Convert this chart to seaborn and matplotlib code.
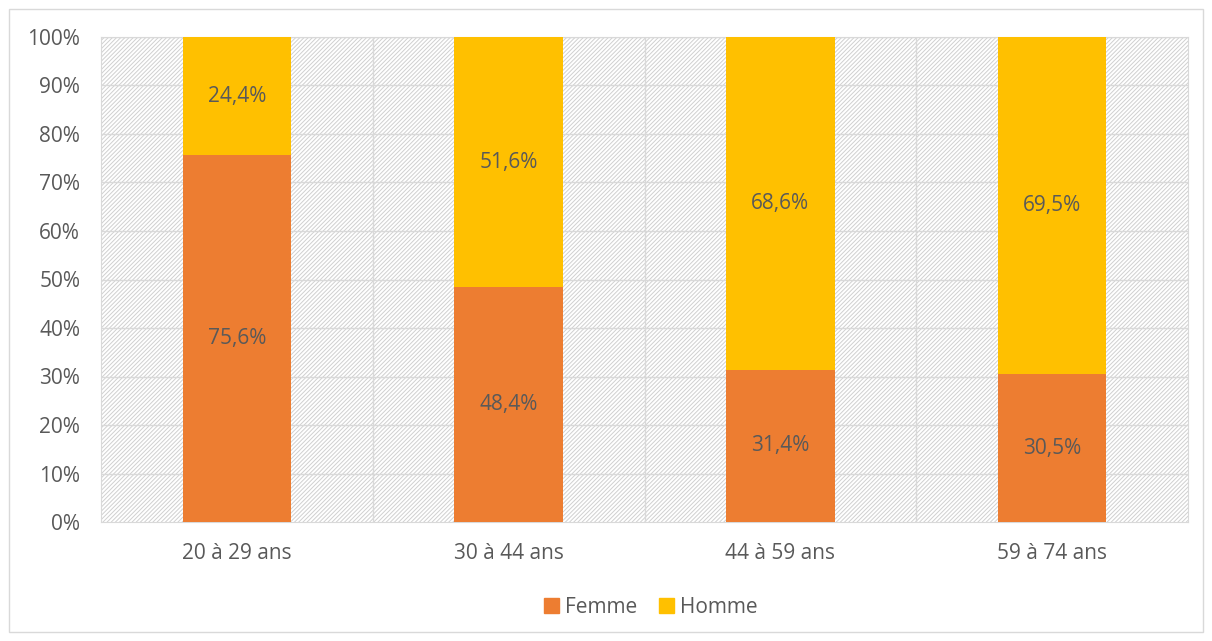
import matplotlib
matplotlib.use("Agg")
import matplotlib.pyplot as plt
import seaborn as sns
import pandas as pd
from matplotlib.patches import Rectangle

categories = ["20 à 29 ans", "30 à 44 ans", "44 à 59 ans", "59 à 74 ans"]
femme = [75.6, 48.4, 31.4, 30.5]
homme = [24.4, 51.6, 68.6, 69.5]

sns.set_style("white")
plt.rcParams["font.family"] = ["Open Sans", "DejaVu Sans"]
plt.rcParams["hatch.linewidth"] = 0.7

orange = "#ed7d31"
yellow = "#ffc000"
txt = "#595959"
fs = 15

df = pd.DataFrame({"cat": categories, "femme": femme, "homme": homme})
df["total"] = df["femme"] + df["homme"]

fig = plt.figure(figsize=(12.12, 6.41), dpi=100)
fig.patches.append(Rectangle((9 / 1212, 9 / 641), 1194 / 1212, 623 / 641,
                             transform=fig.transFigure, fill=False,
                             edgecolor="#d9d9d9", linewidth=1))
ax = fig.add_axes([101 / 1212, 119 / 641, 1087 / 1212, 485 / 641])

# hatched plot area background
ax.add_patch(Rectangle((0, 0), 1, 1, transform=ax.transAxes, facecolor="white",
                       hatch="////////", edgecolor="#d0d0d0", linewidth=0, zorder=0))

sns.barplot(data=df, x="cat", y="total", color=yellow, width=0.4, saturation=1,
            ax=ax, zorder=3, linewidth=0)
sns.barplot(data=df, x="cat", y="femme", color=orange, width=0.4, saturation=1,
            ax=ax, zorder=3, linewidth=0)

for i in range(len(categories)):
    ax.text(i, femme[i] / 2, f"{femme[i]:.1f}%".replace(".", ","), ha="center",
            va="center", fontsize=fs, color=txt, zorder=4)
    ax.text(i, femme[i] + homme[i] / 2, f"{homme[i]:.1f}%".replace(".", ","),
            ha="center", va="center", fontsize=fs, color=txt, zorder=4)

ax.set_xlim(-0.5, 3.5)
ax.set_ylim(0, 100)
ax.set_yticks(range(0, 101, 10))
ax.set_yticklabels([f"{v}%" for v in range(0, 101, 10)])
for y in range(10, 101, 10):
    ax.axhline(y, color="#d9d9d9", linewidth=1, zorder=1)
for x in [0.5, 1.5, 2.5]:
    ax.axvline(x, color="#d9d9d9", linewidth=1, zorder=1)
for s in ax.spines.values():
    s.set_color("#d9d9d9")
ax.tick_params(axis="both", length=0, labelsize=fs, colors=txt)
ax.tick_params(axis="y", pad=15)
ax.tick_params(axis="x", pad=15)
ax.set_xlabel("")
ax.set_ylabel("")

handles = [Rectangle((0, 0), 1, 1, color=orange), Rectangle((0, 0), 1, 1, color=yellow)]
fig.legend(handles, ["Femme", "Homme"], loc="center", bbox_to_anchor=(0.537, 0.053),
           ncol=2, frameon=False, fontsize=fs, labelcolor=txt, handlelength=0.75,
           handleheight=0.75, handletextpad=0.3, columnspacing=1.0)

fig.savefig("out.png", dpi=100)
